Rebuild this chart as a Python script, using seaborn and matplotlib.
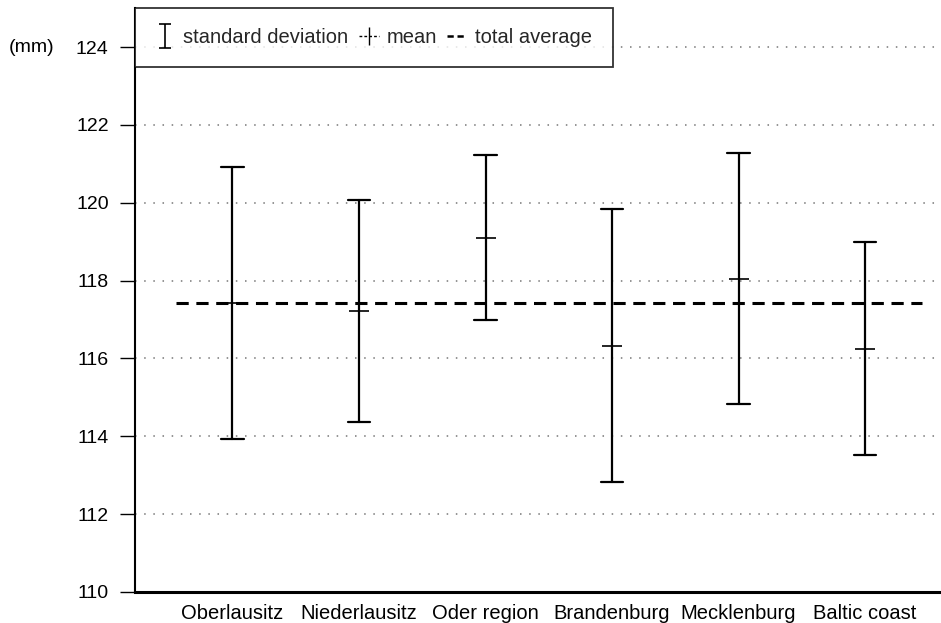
import matplotlib
matplotlib.use("Agg")
import matplotlib.pyplot as plt
from matplotlib.lines import Line2D
from matplotlib.path import Path
import seaborn as sns
import pandas as pd

# values (mm)
regions = ["Oberlausitz", "Niederlausitz", "Oder region",
           "Brandenburg", "Mecklenburg", "Baltic coast"]
means = [117.42, 117.22, 119.10, 116.33, 118.05, 116.25]
std_devs = [3.50, 2.85, 2.12, 3.50, 3.22, 2.73]
total_average = 117.42
y_ticks = [110, 112, 114, 116, 118, 120, 122, 124]

sns.set_theme(style="white")
plt.rcParams["font.family"] = ["Liberation Sans", "DejaVu Sans"]

# two rows per region at mean -/+ sd, so the pointplot mean and its
# 100% percentile interval give back the mean and the sd bar
df = pd.DataFrame({
    "region": [r for r in regions for _ in range(2)],
    "value": [v for m, s in zip(means, std_devs) for v in (m - s, m + s)],
})

fig = plt.figure(figsize=(9.41, 6.23), dpi=100)
ax = fig.add_axes([0.1435, 0.05, 0.8565, 0.937])

sns.pointplot(data=df, x="region", y="value", order=regions,
              estimator="mean", errorbar=("pi", 100), capsize=0.18,
              linestyle="none", marker="_", markersize=14,
              markeredgewidth=1.2, color="black",
              err_kws={"linewidth": 1.6}, ax=ax)

n = len(regions)
ax.hlines(total_average, -0.45, n - 0.55, colors="black",
          linestyles=(0, (4, 2.5)), linewidth=2.2, zorder=1)

ax.set_xlim(-0.77, n - 0.4)
ax.set_ylim(110, 125)
ax.set_yticks(y_ticks)
ax.set_xlabel("")
ax.set_ylabel("")

# dotted reference lines
for t in y_ticks[1:]:
    ax.axhline(t, color="#777777", linestyle=(0, (1, 5)), linewidth=1.1, zorder=0)

for side in ["top", "right"]:
    ax.spines[side].set_visible(False)
ax.spines["left"].set_linewidth(1.5)
ax.spines["bottom"].set_linewidth(2.2)
ax.spines["left"].set_color("black")
ax.spines["bottom"].set_color("black")

ax.tick_params(axis="y", direction="out", length=11, width=1.0,
               color="black", labelsize=14, pad=8, left=True)
ax.tick_params(axis="x", length=0, labelsize=14.5, pad=9)
for lab in ax.get_xticklabels() + ax.get_yticklabels():
    lab.set_color("black")

ax.text(-0.129, 124, "(mm)", transform=ax.get_yaxis_transform(),
        ha="center", va="center", fontsize=14, color="black")

# legend
ibar = Path([(-0.5, 1), (0.5, 1), (0, 1), (0, -1), (-0.5, -1), (0.5, -1)],
            [Path.MOVETO, Path.LINETO, Path.MOVETO, Path.LINETO,
             Path.MOVETO, Path.LINETO])
handles = [
    Line2D([], [], linestyle="none", marker=ibar, markersize=17,
           markeredgewidth=1.2, color="black"),
    Line2D([], [], linestyle=(0, (2, 1.5)), linewidth=1.0, marker="|",
           markersize=13, markeredgewidth=1.0, color="black"),
    Line2D([], [], linestyle=(0, (2.5, 1.5)), linewidth=1.8, color="black"),
]
leg = ax.legend(handles, ["standard deviation", "mean", "total average"],
                loc="upper left", bbox_to_anchor=(0.0, 1.0), borderaxespad=0,
                ncol=3, fontsize=14.5, frameon=True, fancybox=False,
                handlelength=1.0, handletextpad=0.4, columnspacing=0.5,
                borderpad=1.0)
leg.get_frame().set_edgecolor("black")
leg.get_frame().set_linewidth(1.3)

fig.savefig("out.png", dpi=100)
